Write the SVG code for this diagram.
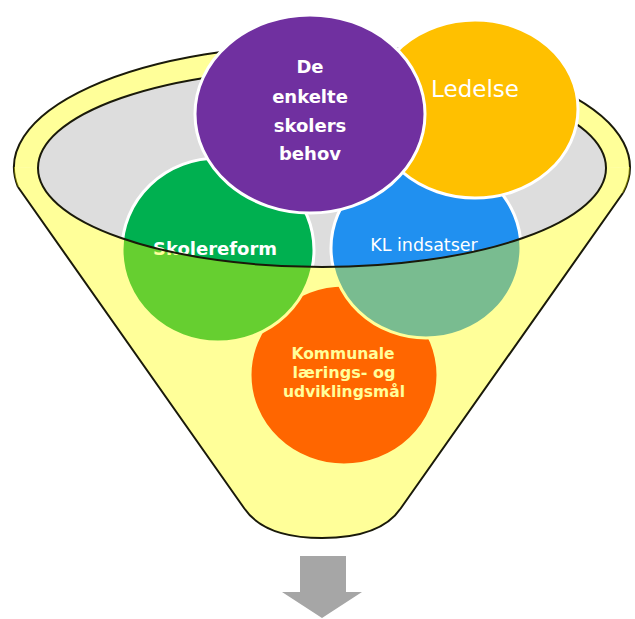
<svg xmlns="http://www.w3.org/2000/svg" width="635" height="619" viewBox="0 0 635 619">
<style>
.circ{stroke:#ffffff;stroke-width:3}
.ln{fill:none;stroke:#1a1a0a;stroke-width:2}
.t{font-family:"DejaVu Sans","Liberation Sans",sans-serif;text-anchor:middle;fill:#ffffff}
.b{font-weight:bold}
</style>
<rect width="635" height="619" fill="#ffffff"/>
<g id="funnel-back">
<path d="M14,167 A308,122 0 0 1 630,167 L606,168 A284,99 0 0 1 38,168 Z" fill="#ffff99"/>
<ellipse cx="322" cy="168" rx="284" ry="99" fill="#dddddd"/>
<path class="ln" d="M623,193 A308,122 0 1 0 18,187"/>
<path class="ln" d="M38,168 A284,99 0 0 1 606,168"/>
</g>
<g id="node-kommunale">
<ellipse class="circ" cx="344" cy="375" rx="94" ry="90" fill="#ff0000"/>
<text class="t b" font-size="15"><tspan x="343" y="359" textLength="103" lengthAdjust="spacingAndGlyphs">Kommunale</tspan><tspan x="344" y="378" textLength="103" lengthAdjust="spacingAndGlyphs">lærings- og</tspan><tspan x="344" y="397" textLength="122" lengthAdjust="spacingAndGlyphs">udviklingsmål</tspan></text>
</g>
<g id="node-skolereform">
<ellipse class="circ" cx="218" cy="250" rx="96" ry="92" fill="#00b050"/>
<text class="t b" x="215" y="255" font-size="18">Skolereform</text>
</g>
<g id="node-kl">
<ellipse class="circ" cx="426" cy="248" rx="95" ry="90" fill="#2090f0"/>
<text class="t" x="424" y="251" font-size="17.5">KL indsatser</text>
</g>
<g id="node-ledelse">
<ellipse class="circ" cx="475" cy="109" rx="103" ry="89" fill="#ffc000"/>
<text class="t" x="475" y="97" font-size="23" fill="#fff6dc">Ledelse</text>
</g>
<g id="node-behov">
<ellipse class="circ" cx="310" cy="114" rx="115" ry="99" fill="#7030a0"/>
<text class="t b" font-size="18" fill="#f6eefc"><tspan x="310" y="73">De</tspan><tspan x="310" y="103">enkelte</tspan><tspan x="310" y="132">skolers</tspan><tspan x="310" y="160">behov</tspan></text>
</g>
<g id="funnel-front">
<path d="M38,168 A284,99 0 0 0 606,168 L630,167 A308,122 0 0 1 623,193 L401,508 C389,526 364,538 322,538 C280,538 256,526 244,508 L18,187 A308,122 0 0 1 14,167 Z" fill="#ffff00" fill-opacity="0.4"/>
<path class="ln" d="M38,168 A284,99 0 0 0 606,168"/>
<path class="ln" d="M18,187 L244,508 C256,526 280,538 322,538 C364,538 389,526 401,508 L623,193"/>
</g>
<g id="connectors">
<polygon points="300,556 346,556 346,592 362,592 322,618 282,592 300,592" fill="#a6a6a6"/>
</g>
</svg>
